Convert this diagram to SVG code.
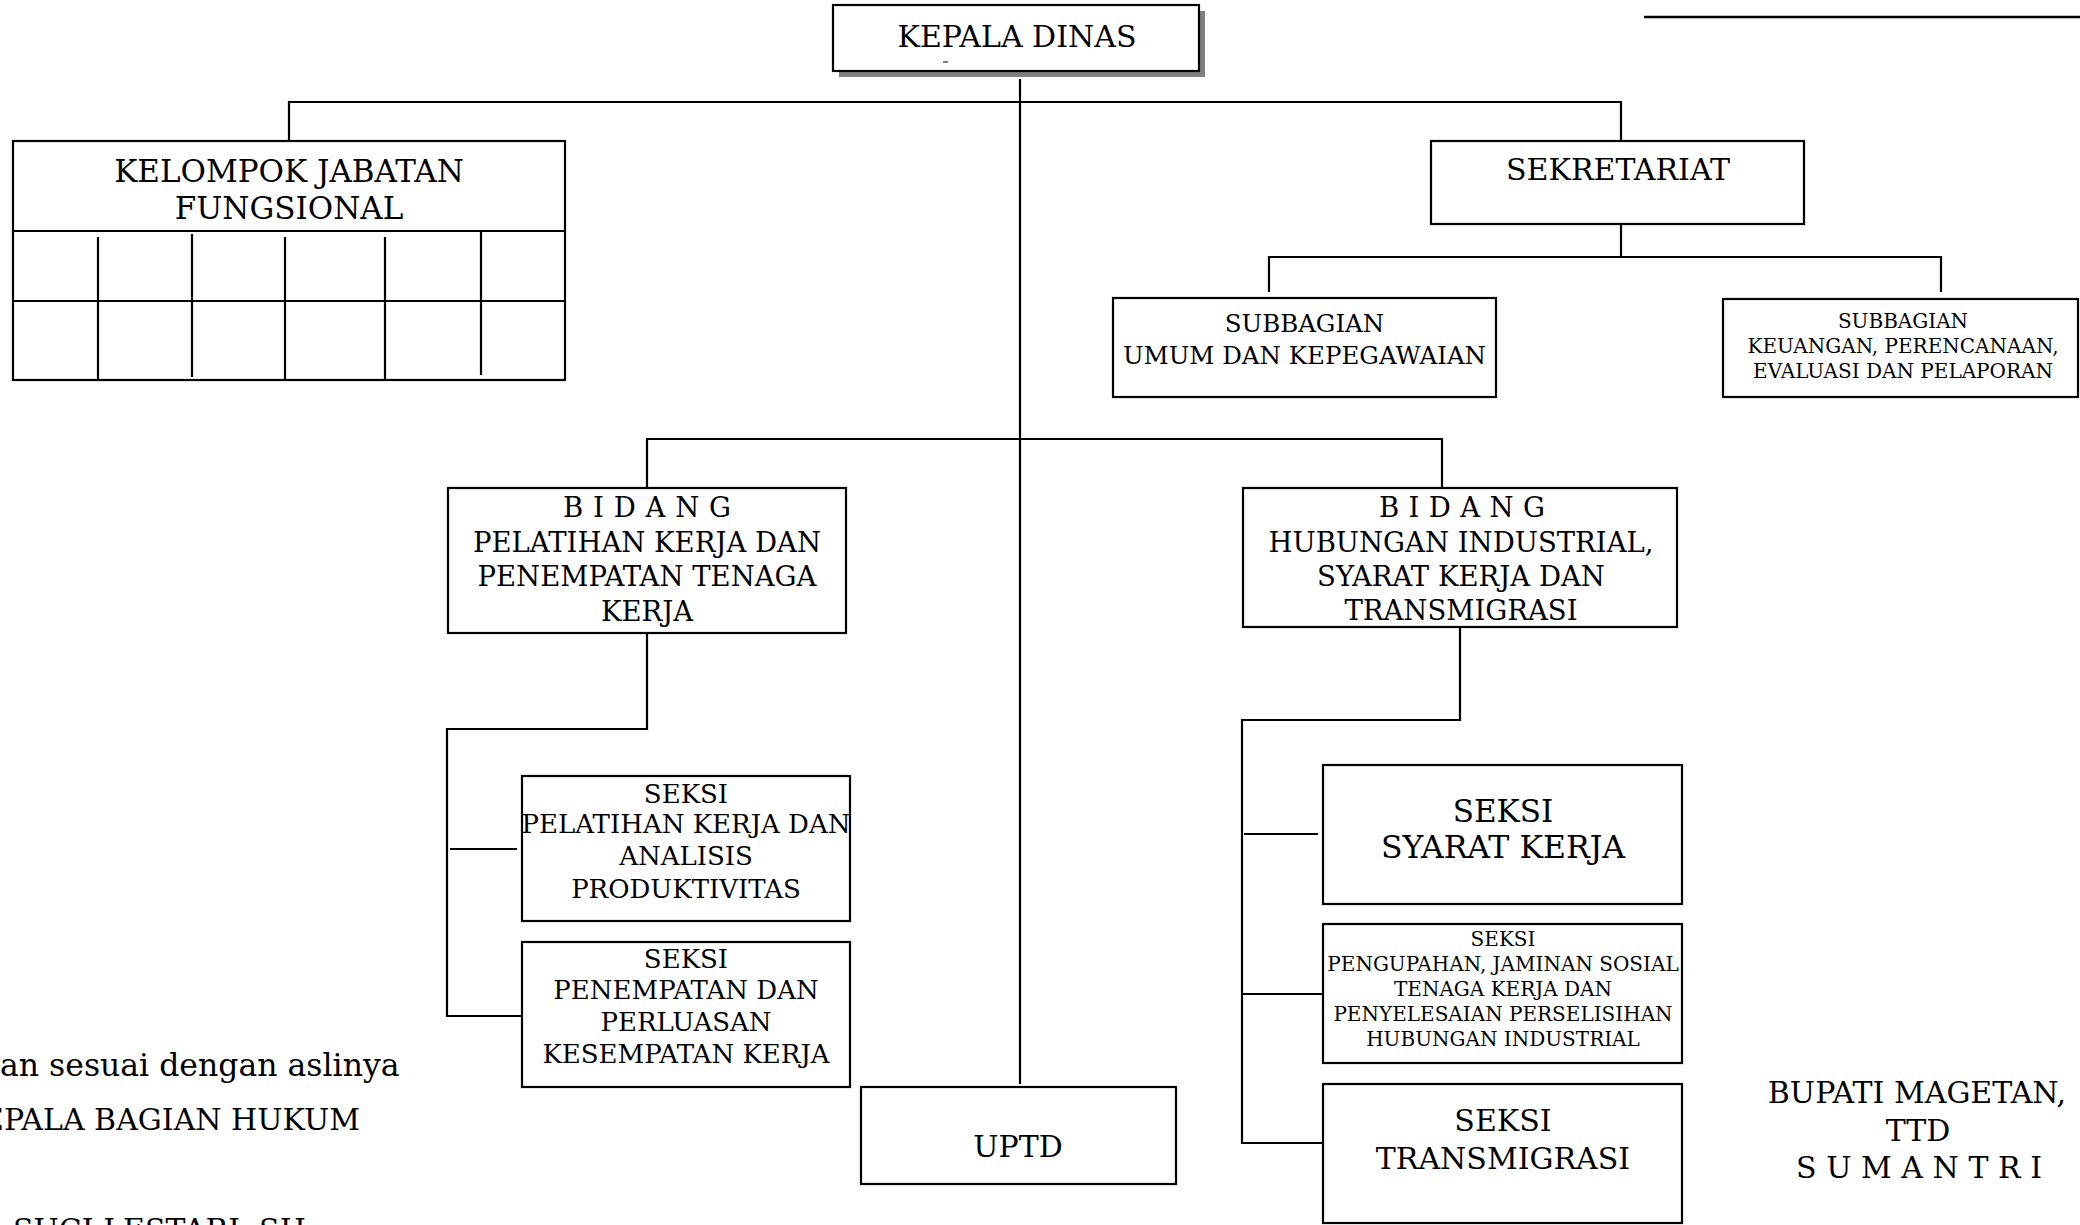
<svg xmlns="http://www.w3.org/2000/svg" width="2080" height="1225" viewBox="0 0 2080 1225">
<style>
.box{fill:#fff;stroke:#000;stroke-width:2.2}
.ln{fill:none;stroke:#000;stroke-width:2.2}
text{font-family:"DejaVu Serif","Liberation Serif",serif;fill:#000;text-anchor:middle}
.s30{font-size:30px}
.s28{font-size:27.5px}
.s26{font-size:26px}
.s24{font-size:24.5px}
.s20{font-size:20px}
.s31{font-size:31px}
.l{text-anchor:start}
</style>
<rect width="2080" height="1225" fill="#fff"/>
<g id="connectors">
<path class="ln" d="M1020 79 V1084"/>
<path class="ln" d="M289 141 V102 H1621 V141"/>
<path class="ln" d="M647 488 V439 H1442 V488"/>
<path class="ln" d="M1621 224 V257"/>
<path class="ln" d="M1269 292 V257 H1941 V292"/>
<path class="ln" d="M647 633 V729 H447 V1016 H522"/>
<path class="ln" d="M450 849 H517"/>
<path class="ln" d="M1460 627 V720 H1242 V1143 H1323"/>
<path class="ln" d="M1244 834 H1318"/>
<path class="ln" d="M1242 994 H1323"/>
</g>
<g id="topline">
<line x1="1644" y1="17" x2="2080" y2="17" stroke="#000" stroke-width="2.5"/>
</g>
<g id="kepala-dinas">
<rect x="839" y="11" width="366" height="66" fill="#808080"/>
<rect class="box" x="833" y="5" width="366" height="66"/>
<text class="s30" x="1017" y="47">KEPALA DINAS</text>
<line x1="943" y1="62" x2="948" y2="62" stroke="#555" stroke-width="1.5"/>
</g>
<g id="kelompok-jabatan-fungsional">
<rect class="box" x="13" y="141" width="552" height="239"/>
<line class="ln" x1="13" y1="231" x2="565" y2="231"/>
<line class="ln" x1="13" y1="301" x2="565" y2="301"/>
<line class="ln" x1="98" y1="237" x2="98" y2="379"/>
<line class="ln" x1="192" y1="234" x2="192" y2="377"/>
<line class="ln" x1="285" y1="237" x2="285" y2="380"/>
<line class="ln" x1="385" y1="237" x2="385" y2="380"/>
<line class="ln" x1="481" y1="232" x2="481" y2="375"/>
<text class="s31" x="289" y="182">KELOMPOK JABATAN</text>
<text class="s31" x="289" y="219">FUNGSIONAL</text>
</g>
<g id="sekretariat">
<rect class="box" x="1431" y="141" width="373" height="83"/>
<text class="s30" x="1618" y="180">SEKRETARIAT</text>
</g>
<g id="subbagian-umum">
<rect class="box" x="1113" y="298" width="383" height="99"/>
<text class="s24" x="1304.5" y="332">SUBBAGIAN</text>
<text class="s24" x="1304.5" y="364">UMUM DAN KEPEGAWAIAN</text>
</g>
<g id="subbagian-keuangan">
<rect class="box" x="1723" y="299" width="355" height="98"/>
<text class="s20" x="1903" y="328">SUBBAGIAN</text>
<text class="s20" x="1903" y="353">KEUANGAN, PERENCANAAN,</text>
<text class="s20" x="1903" y="378">EVALUASI DAN PELAPORAN</text>
</g>
<g id="bidang-pelatihan">
<rect class="box" x="448" y="488" width="398" height="145"/>
<text class="s28" x="647" y="517" textLength="168" lengthAdjust="spacing">B I D A N G</text>
<text class="s28" x="647" y="552">PELATIHAN KERJA DAN</text>
<text class="s28" x="647" y="586">PENEMPATAN TENAGA</text>
<text class="s28" x="647" y="621">KERJA</text>
</g>
<g id="bidang-hubungan">
<rect class="box" x="1243" y="488" width="434" height="139"/>
<text class="s28" x="1462" y="517" textLength="166" lengthAdjust="spacing">B I D A N G</text>
<text class="s28" x="1461" y="552">HUBUNGAN INDUSTRIAL,</text>
<text class="s28" x="1461" y="586">SYARAT KERJA DAN</text>
<text class="s28" x="1461" y="620">TRANSMIGRASI</text>
</g>
<g id="seksi-pelatihan">
<rect class="box" x="522" y="776" width="328" height="145"/>
<text class="s26" x="686" y="803">SEKSI</text>
<text class="s26" x="686" y="833">PELATIHAN KERJA DAN</text>
<text class="s26" x="686" y="865">ANALISIS</text>
<text class="s26" x="686" y="898">PRODUKTIVITAS</text>
</g>
<g id="seksi-penempatan">
<rect class="box" x="522" y="942" width="328" height="145"/>
<text class="s26" x="686" y="968">SEKSI</text>
<text class="s26" x="686" y="999">PENEMPATAN DAN</text>
<text class="s26" x="686" y="1031">PERLUASAN</text>
<text class="s26" x="686" y="1063">KESEMPATAN KERJA</text>
</g>
<g id="uptd">
<rect class="box" x="861" y="1087" width="315" height="97"/>
<text class="s30" x="1018" y="1157">UPTD</text>
</g>
<g id="seksi-syarat-kerja">
<rect class="box" x="1323" y="765" width="359" height="139"/>
<text x="1503" y="822" style="font-size:31px">SEKSI</text>
<text x="1503" y="858" style="font-size:31.5px">SYARAT KERJA</text>
</g>
<g id="seksi-pengupahan">
<rect class="box" x="1323" y="924" width="359" height="139"/>
<text class="s20" x="1503" y="946">SEKSI</text>
<text class="s20" x="1503" y="971">PENGUPAHAN, JAMINAN SOSIAL</text>
<text class="s20" x="1503" y="996">TENAGA KERJA DAN</text>
<text class="s20" x="1503" y="1021">PENYELESAIAN PERSELISIHAN</text>
<text class="s20" x="1503" y="1046">HUBUNGAN INDUSTRIAL</text>
</g>
<g id="seksi-transmigrasi">
<rect class="box" x="1323" y="1084" width="359" height="139"/>
<text class="s30" x="1503" y="1131">SEKSI</text>
<text class="s30" x="1503" y="1169">TRANSMIGRASI</text>
</g>
<g id="notes">
<text class="l" x="0" y="1076" style="font-size:31.5px">an sesuai dengan aslinya</text>
<text class="s30 l" x="-18" y="1130">EPALA BAGIAN HUKUM</text>
<text class="s30 l" x="13" y="1240">SUCI LESTARI, SH</text>
<text class="s30" x="1917" y="1103">BUPATI MAGETAN,</text>
<text class="s30" x="1918" y="1141">TTD</text>
<text class="s30" x="1919" y="1178" textLength="246" lengthAdjust="spacing">S U M A N T R I</text>
</g>
</svg>
